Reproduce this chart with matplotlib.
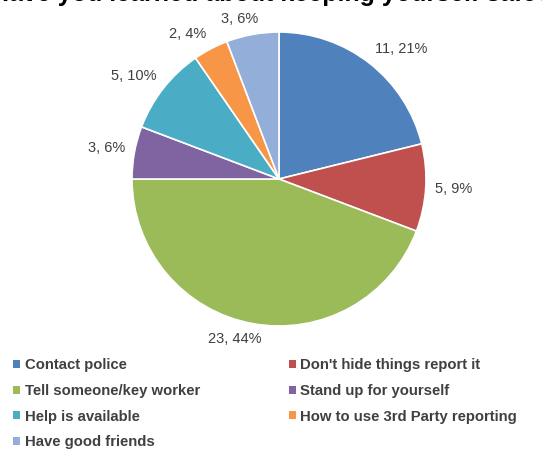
import matplotlib
matplotlib.use("Agg")
import matplotlib.pyplot as plt
import numpy as np
from matplotlib.patches import Patch

plt.rcParams['font.family'] = ['Liberation Sans', 'DejaVu Sans']

title = "Have you learned about keeping yourself safe?"
categories = [
    "Contact police",
    "Don't hide things report it",
    "Tell someone/key worker",
    "Stand up for yourself",
    "Help is available",
    "How to use 3rd Party reporting",
    "Have good friends",
]
counts = [11, 5, 23, 3, 5, 2, 3]
percents = [21, 9, 44, 6, 10, 4, 6]
colors = ["#4F81BD", "#C0504D", "#9BBB59", "#8064A2",
          "#4BACC6", "#F79646", "#94AEDA"]

W, H = 542, 451
fig = plt.figure(figsize=(W / 100, H / 100), dpi=100)

cx, cy, r = 279, 179, 147
ax = fig.add_axes([(cx - r) / W, 1 - (cy + r) / H, 2 * r / W, 2 * r / H])
wedges, _ = ax.pie(counts, colors=colors, startangle=90, counterclock=False,
                   radius=1, wedgeprops=dict(edgecolor="white", linewidth=1.2))
ax.set_xlim(-1, 1)
ax.set_ylim(-1, 1)
ax.set_axis_off()

# data labels just outside each slice, pushed away from the pie
renderer = fig.canvas.get_renderer()
for w, n, p in zip(wedges, counts, percents):
    mid = np.deg2rad((w.theta1 + w.theta2) / 2)
    c, s = np.cos(mid), np.sin(mid)
    d = 1.06
    t = ax.text(d * c, d * s, f"{n}, {p}%", ha="center", va="center",
                fontsize=10.5, color="#404040", clip_on=False)
    bb = t.get_window_extent(renderer)
    fx = np.clip(c / 0.3, -1, 1)
    fy = np.clip(s / 0.5, -1, 1)
    px, py = ax.transData.transform((d * c, d * s))
    px += fx * bb.width / 2
    py += fy * bb.height / 2
    t.set_position(ax.transData.inverted().transform((px, py)))

fig.text(0.5, 1 - 1 / H, title, ha="center", va="baseline",
         fontsize=18, fontweight="bold", color="#000000")

handles = [Patch(facecolor=c, edgecolor="none") for c in colors]
order = [0, 2, 4, 6, 1, 3, 5]
leg = fig.legend([handles[i] for i in order], [categories[i] for i in order],
                 ncol=2, loc="upper left", bbox_to_anchor=(0.0, 1 - 345 / H),
                 frameon=False, handlelength=0.45, handleheight=0.45,
                 handletextpad=0.3, columnspacing=6.0, labelspacing=0.78,
                 prop=dict(size=10.7, weight="bold"))
for t in leg.get_texts():
    t.set_color("#404040")

fig.savefig("out.png", dpi=100)
